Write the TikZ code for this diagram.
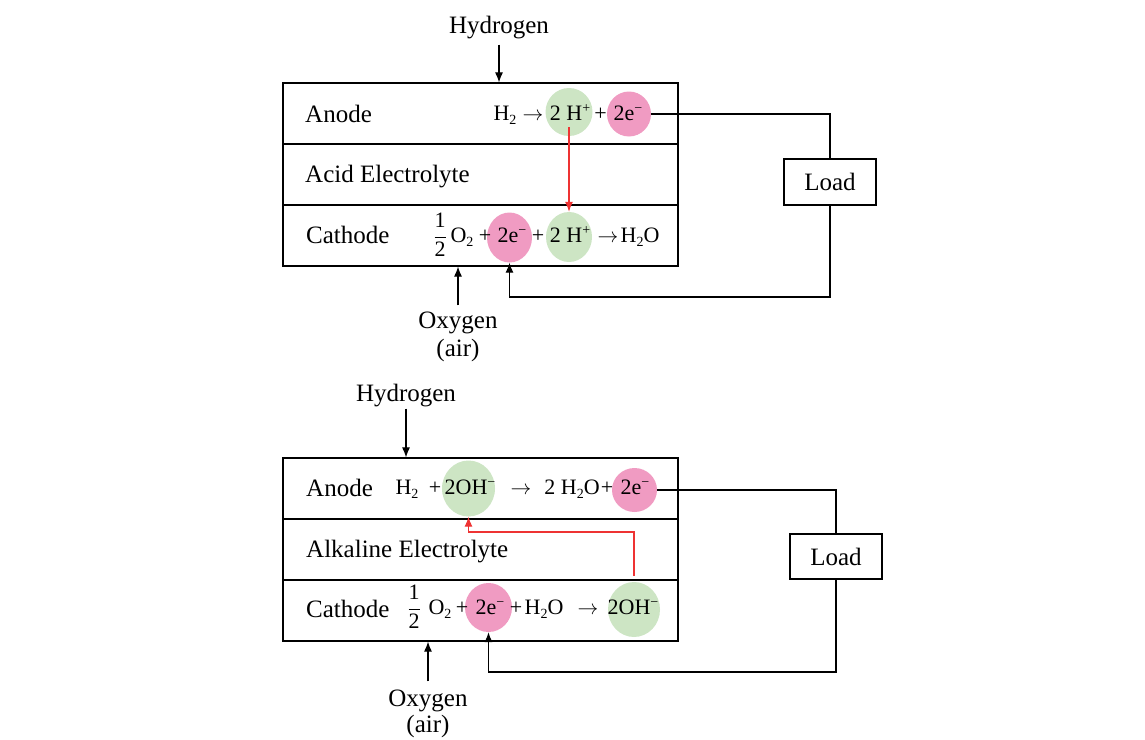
\documentclass[tikz,border=0pt]{standalone}
\usepackage{fontspec}
\setmainfont{Liberation Serif}
\usetikzlibrary{arrows.meta,calc,shapes.geometric}
\definecolor{gfill}{HTML}{CDE5C4}
\definecolor{pfill}{HTML}{F09BC2}
\definecolor{redl}{HTML}{EE3333}
\newcommand\mysub[1]{\raisebox{-0.45ex}{\fontsize{14}{16}\selectfont #1}}
\newcommand\mysup[1]{\raisebox{0.75ex}{\fontsize{14}{16}\selectfont #1}}
\newcommand\myarr{\ensuremath{\rightarrow}}
\begin{document}
\begin{tikzpicture}[x=1pt,y=-1pt,
  lbl/.style={font=\fontsize{25}{30}\selectfont, inner sep=0pt},
  eq/.style={font=\fontsize{22}{26}\selectfont, inner sep=0pt, anchor=base},
  layer/.style={draw, line width=1.2pt, minimum width=395pt, minimum height=61pt, inner sep=0pt},
  gc/.style={ellipse, fill=gfill, inner sep=0pt},
  pc/.style={ellipse, fill=pfill, inner sep=0pt},
  wire/.style={line width=1.1pt},
  arr/.style={line width=1.1pt, -{Latex[length=10pt,width=8pt]}},
  rarr/.style={line width=1.1pt, draw=redl, -{Latex[length=10pt,width=8pt]}},
  loadbox/.style={draw, line width=1.2pt, minimum width=92pt, font=\fontsize{25}{30}\selectfont, inner sep=0pt}
]
\useasboundingbox (0,0) rectangle (1145,739);

% ===================== TOP (acid) =====================
\node[layer] (an1) at (480.5,113.5) {};
\node[layer] (el1) at (480.5,174.5) {};
\node[layer] (ca1) at (480.5,235.5) {};

\node[gc, minimum width=47pt, minimum height=48pt] (ga1) at (569,112) {};
\node[pc, minimum width=44pt, minimum height=45pt] (pa1) at (629,114) {};
\node[pc, minimum width=45pt, minimum height=50pt] (pc1) at (509.5,237.5) {};
\node[gc, minimum width=46pt, minimum height=50pt] (gc1) at (569,237) {};

\node[lbl, anchor=base] (h1) at (499,33) {Hydrogen};
\node[lbl, anchor=base west] (tan1) at (305,122) {Anode};
\node[lbl, anchor=base west] (tel1) at (305,182) {Acid Electrolyte};
\node[lbl, anchor=base west] (tca1) at (306,243) {Cathode};

\node[eq] (a1e1) at (505,120) {H\mysub{2}};
\node[eq] (a1e2) at (533,120) {\myarr};
\node[eq] (a1e3) at (570,120) {2 H\mysup{+}};
\node[eq] (a1e4) at (600.5,120) {+};
\node[eq] (a1e5) at (628,120) {2e\mysup{−}};

\node[eq] (c1e1) at (440,242) {$\displaystyle\frac{\mbox{1}}{\mbox{2}}$};
\node[eq] (c1e2) at (462,242) {O\mysub{2}};
\node[eq] (c1e3) at (485,242) {+};
\node[eq] (c1e4) at (512,242) {2e\mysup{−}};
\node[eq] (c1e5) at (538,242) {+};
\node[eq] (c1e6) at (570,242) {2 H\mysup{+}};
\node[eq] (c1e7) at (608,242) {\myarr};
\node[eq] (c1e8) at (640,242) {H\mysub{2}O};

\node[loadbox, minimum height=46pt] (load1) at (830,182) {Load};

\node[lbl, anchor=base] (o1) at (458,328) {Oxygen};
\node[lbl, anchor=base] (o1b) at (458,356) {(air)};

\coordinate (w1) at (0,297);
\draw[wire] (pa1.east) -| (load1.north);
\draw[arr] (load1.south) |- (pc1.south |- w1) -- (pc1.south);
\draw[rarr, shorten <=15pt] (ga1.center) -- (gc1.north);
\draw[arr, shorten <=6pt] (h1.south) -- (h1.south |- an1.north);
\draw[arr, shorten <=6pt] (o1.north) -- (o1.north |- ca1.south);

% ===================== BOTTOM (alkaline) =====================
\node[layer] (an2) at (480.5,488.5) {};
\node[layer] (el2) at (480.5,549.5) {};
\node[layer] (ca2) at (480.5,610.5) {};

\node[gc, minimum width=53pt, minimum height=56pt] (ga2) at (468.5,488.5) {};
\node[pc, minimum width=45pt, minimum height=44pt] (pa2) at (634.5,490) {};
\node[pc, minimum width=47pt, minimum height=49pt] (pc2) at (488.5,607.5) {};
\node[gc, minimum width=52pt, minimum height=55pt] (gc2) at (634,609.5) {};

\node[lbl, anchor=base] (h2) at (406,401) {Hydrogen};
\node[lbl, anchor=base west] (tan2) at (306,496) {Anode};
\node[lbl, anchor=base west] (tel2) at (306,557) {Alkaline Electrolyte};
\node[lbl, anchor=base west] (tca2) at (306,617) {Cathode};

\node[eq] (a2e1) at (407,494) {H\mysub{2}};
\node[eq] (a2e2) at (435,494) {+};
\node[eq] (a2e3) at (470,494) {2OH\mysup{−}};
\node[eq] (a2e4) at (521,494) {\myarr};
\node[eq] (a2e5) at (572,494) {2 H\mysub{2}O};
\node[eq] (a2e6) at (607,494) {+};
\node[eq] (a2e7) at (635,494) {2e\mysup{−}};

\node[eq] (c2e1) at (414,614) {$\displaystyle\frac{\mbox{1}}{\mbox{2}}$};
\node[eq] (c2e2) at (440,614) {O\mysub{2}};
\node[eq] (c2e3) at (462,614) {+};
\node[eq] (c2e4) at (490,614) {2e\mysup{−}};
\node[eq] (c2e5) at (516,614) {+};
\node[eq] (c2e6) at (544,614) {H\mysub{2}O};
\node[eq] (c2e7) at (588,614) {\myarr};
\node[eq] (c2e8) at (633,614) {2OH\mysup{−}};

\node[loadbox, minimum height=45pt] (load2) at (836,556.5) {Load};

\node[lbl, anchor=base] (o2) at (428,706) {Oxygen};
\node[lbl, anchor=base] (o2b) at (428,732) {(air)};

\coordinate (w2) at (0,672);
\coordinate (r2) at (0,532);
\draw[wire] (pa2.east) -| (load2.north);
\draw[arr] (load2.south) |- (pc2.south |- w2) -- (pc2.south);
\draw[rarr, shorten <=6pt] (gc2.north) -- (gc2.north |- r2) -| (ga2.south);
\draw[arr, shorten <=2pt] (h2.south) -- (h2.south |- an2.north);
\draw[arr, shorten <=8pt] (o2.north) -- (o2.north |- ca2.south);
\end{tikzpicture}
\end{document}
